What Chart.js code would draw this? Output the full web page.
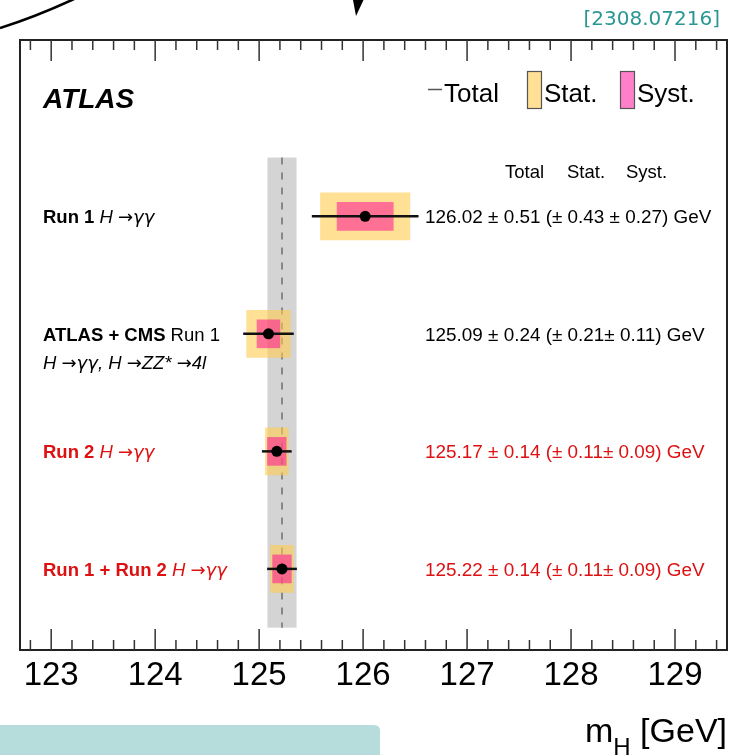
<!DOCTYPE html>
<html>
<head>
<meta charset="utf-8">
<script src="https://cdn.jsdelivr.net/npm/chart.js@4.4.0/dist/chart.umd.min.js"></script>
<style>
  html, body { margin: 0; padding: 0; background: #fff; }
  #wrap { position: relative; width: 744px; height: 755px; }
</style>
</head>
<body>
<div id="wrap"><canvas id="mass" width="744" height="755"></canvas></div>
<script>
// measurements, one entry per row (top to bottom)
const rows = ["Run 1", "ATLAS + CMS Run 1", "Run 2", "Run 1 + Run 2"];
const rowPos = [1, 2, 3, 4];
const mass = [126.02, 125.09, 125.17, 125.22];
const totErr = [0.51, 0.24, 0.14, 0.14];
const statErr = [0.43, 0.21, 0.11, 0.11];
const systErr = [0.27, 0.11, 0.09, 0.09];
const xTicks = [123, 124, 125, 126, 127, 128, 129];
const xRange = [122.7, 129.5];

const SANS = "'Liberation Sans', Arial, sans-serif";
const SYM = "'DejaVu Sans', sans-serif";
const RED = "#dd1111";
const rowColor = ["#000", "#000", RED, RED];
const STAT_FILL = "rgba(255, 204, 77, 0.6)";
const SYST_FILL = "rgba(255, 0, 150, 0.5)";

function valueText(i) {
  const sep = i === 0 ? " \u00b1 " : "\u00b1 ";
  return mass[i].toFixed(2) + " \u00b1 " + totErr[i].toFixed(2) +
    " (\u00b1 " + statErr[i].toFixed(2) + sep + systErr[i].toFixed(2) + ") GeV";
}

// text drawn as a row of differently styled pieces
function drawRuns(ctx, x, y, parts) {
  parts.forEach(p => {
    ctx.font = p.f;
    ctx.fillStyle = p.c;
    ctx.fillText(p.t, x, y);
    x += ctx.measureText(p.t).width;
  });
}

const decor = {
  id: "decor",
  beforeDatasetsDraw(chart) {
    const { ctx, scales: { x, y } } = chart;
    const last = rows.length - 1;
    const xl = x.getPixelForValue(mass[last] - totErr[last]);
    const xr = x.getPixelForValue(mass[last] + totErr[last]);
    const yt = y.getPixelForValue(rowPos[0] - 0.5);
    const yb = y.getPixelForValue(rowPos[last] + 0.5);
    ctx.save();
    ctx.fillStyle = "#d4d4d4";
    ctx.fillRect(xl, yt, xr - xl, yb - yt);
    const xm = x.getPixelForValue(mass[last]);
    ctx.strokeStyle = "#555";
    ctx.lineWidth = 1.2;
    ctx.setLineDash([7, 8]);
    ctx.beginPath();
    ctx.moveTo(xm, yt);
    ctx.lineTo(xm, yb);
    ctx.stroke();
    ctx.restore();
  },
  afterDraw(chart) {
    const { ctx, chartArea: a, scales: { x, y } } = chart;
    ctx.save();

    // frame
    ctx.strokeStyle = "#222";
    ctx.lineWidth = 2;
    ctx.strokeRect(a.left, a.top, a.right - a.left, a.bottom - a.top);

    // ticks on top and bottom edges, 0.2 GeV apart
    ctx.lineWidth = 1.5;
    ctx.strokeStyle = "#333";
    for (let k = Math.ceil(xRange[0] * 5); k <= Math.floor(xRange[1] * 5); k++) {
      const px = x.getPixelForValue(k / 5);
      const len = k % 5 === 0 ? 21 : 10;
      ctx.beginPath();
      ctx.moveTo(px, a.bottom);
      ctx.lineTo(px, a.bottom - len);
      ctx.moveTo(px, a.top);
      ctx.lineTo(px, a.top + len);
      ctx.stroke();
    }

    // tick labels
    ctx.fillStyle = "#000";
    ctx.font = "33px " + SANS;
    ctx.textAlign = "center";
    ctx.textBaseline = "alphabetic";
    xTicks.forEach(t => ctx.fillText(String(t), x.getPixelForValue(t), a.bottom + 35));

    // axis title
    ctx.textAlign = "left";
    ctx.font = "34px " + SANS;
    const mw = ctx.measureText("m").width;
    const gw = ctx.measureText(" [GeV]").width;
    ctx.font = "24px " + SANS;
    const hw = ctx.measureText("H").width;
    const tx = a.right - (mw + hw + gw);
    drawRuns(ctx, tx, 742, [{ t: "m", f: "34px " + SANS, c: "#000" }]);
    drawRuns(ctx, tx + mw, 755, [{ t: "H", f: "24px " + SANS, c: "#000" }]);
    drawRuns(ctx, tx + mw + hw, 742, [{ t: " [GeV]", f: "34px " + SANS, c: "#000" }]);

    // ATLAS
    ctx.fillStyle = "#000";
    ctx.font = "italic bold 28px " + SANS;
    ctx.fillText("ATLAS", 43, 108);

    // legend
    ctx.strokeStyle = "#555";
    ctx.lineWidth = 1.5;
    ctx.beginPath();
    ctx.moveTo(428, 89.5);
    ctx.lineTo(442, 89.5);
    ctx.stroke();
    ctx.font = "26px " + SANS;
    ctx.fillText("Total", 444, 102);
    ctx.lineWidth = 1.2;
    ctx.fillStyle = STAT_FILL;
    ctx.fillRect(527.5, 71.5, 14, 37);
    ctx.strokeRect(527.5, 71.5, 14, 37);
    ctx.fillStyle = "#000";
    ctx.fillText("Stat.", 544, 102);
    ctx.fillStyle = SYST_FILL;
    ctx.fillRect(620.5, 71.5, 14, 37);
    ctx.strokeRect(620.5, 71.5, 14, 37);
    ctx.fillStyle = "#000";
    ctx.fillText("Syst.", 637, 102);

    // column headers
    ctx.font = "18.5px " + SANS;
    ctx.fillText("Total", 505, 178);
    ctx.fillText("Stat.", 567, 178);
    ctx.fillText("Syst.", 626, 178);

    // row labels and values
    const B = "bold 18.5px " + SANS, N = "18.5px " + SANS, I = "italic 18.5px " + SANS;
    const V = "18.9px " + SANS;
    const A = "18px " + SYM, G = "oblique 18px " + SYM;
    const hgg = [{ t: " H ", f: I }, { t: "\u2192", f: A }, { t: "\u03b3\u03b3", f: G }];
    const labels = [
      [[{ t: "Run 1", f: B }, ...hgg]],
      [[{ t: "ATLAS + CMS", f: B }, { t: " Run 1", f: N }],
       [{ t: "H ", f: I }, { t: "\u2192", f: A }, { t: "\u03b3\u03b3", f: G }, { t: ", H ", f: I },
        { t: "\u2192", f: A }, { t: "ZZ* ", f: I }, { t: "\u2192", f: A }, { t: "4l", f: I }]],
      [[{ t: "Run 2", f: B }, ...hgg]],
      [[{ t: "Run 1 + Run 2", f: B }, ...hgg]]
    ];
    rows.forEach((r, i) => {
      const py = y.getPixelForValue(rowPos[i]);
      labels[i].forEach((line, j) => {
        drawRuns(ctx, 43, py + 7 + j * 28.5, line.map(p => ({ ...p, c: rowColor[i] })));
      });
      ctx.font = V;
      ctx.fillStyle = rowColor[i];
      ctx.fillText(valueText(i), 425, py + 7);
    });

    // page marks around the figure
    ctx.fillStyle = "#2a9792";
    ctx.font = "20px 'DejaVu Sans', sans-serif";
    ctx.textAlign = "right";
    ctx.fillText("[2308.07216]", 720, 25);

    ctx.strokeStyle = "#000";
    ctx.lineWidth = 2.5;
    ctx.beginPath();
    ctx.moveTo(0, 28);
    ctx.quadraticCurveTo(35, 17, 74, -1);
    ctx.stroke();

    ctx.fillStyle = "#000";
    ctx.beginPath();
    ctx.moveTo(353, 0);
    ctx.lineTo(363.5, 0);
    ctx.lineTo(356, 16);
    ctx.closePath();
    ctx.fill();

    ctx.fillStyle = "#b7dcdc";
    ctx.beginPath();
    ctx.moveTo(0, 725);
    ctx.lineTo(374, 725);
    ctx.quadraticCurveTo(380, 725, 380, 731);
    ctx.lineTo(380, 755);
    ctx.lineTo(0, 755);
    ctx.closePath();
    ctx.fill();

    ctx.restore();
  }
};

const span = (err) => rows.map((_, i) => ({ y: rowPos[i], x: [mass[i] - err[i], mass[i] + err[i]] }));

new Chart(document.getElementById("mass"), {
  type: "bar",
  data: {
    datasets: [
      {
        type: "scatter",
        label: "Value",
        data: rows.map((_, i) => ({ x: mass[i], y: rowPos[i] })),
        pointRadius: 5.5,
        pointBackgroundColor: "#000",
        pointBorderWidth: 0,
        order: 0
      },
      { label: "Total", data: span(totErr), backgroundColor: "#111", barThickness: 1.8, grouped: false, order: 1 },
      { label: "Syst.", data: span(systErr), backgroundColor: SYST_FILL, barThickness: 28, grouped: false, order: 2 },
      { label: "Stat.", data: span(statErr), backgroundColor: STAT_FILL, barThickness: 47, grouped: false, order: 3 }
    ]
  },
  options: {
    indexAxis: "y",
    responsive: false,
    animation: false,
    layout: { padding: { left: 20, top: 40, right: 17, bottom: 105 } },
    scales: {
      x: { type: "linear", min: xRange[0], max: xRange[1], offset: false, display: false },
      y: { type: "linear", min: -0.5, max: 4.69, reverse: true, offset: false, display: false }
    },
    plugins: { legend: { display: false }, tooltip: { enabled: false } }
  },
  plugins: [decor]
});
</script>
</body>
</html>
